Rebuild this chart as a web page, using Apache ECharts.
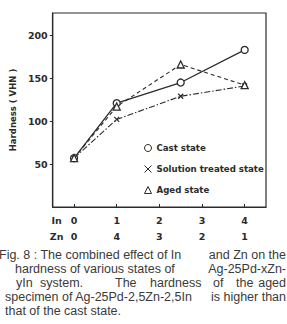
<!DOCTYPE html>
<html>
<head>
<meta charset="utf-8">
<script src="https://cdn.jsdelivr.net/npm/echarts@6/dist/echarts.min.js"></script>
<style>
  html, body { margin: 0; padding: 0; background: #fff; }
  #chart { width: 287px; height: 324px; }
</style>
</head>
<body>
<div id="chart"></div>
<script>
// x positions: In content (Zn = 4 - In, except the base alloy)
const xPositions = [0, 1, 2.5, 4];
const castState = [57, 121, 145, 183];
const solutionState = [57, 102, 129, 141];
const agedState = [57, 117, 166, 142];

const xTicks = [0, 1, 2, 3, 4];
const inLabels = ['0', '1', '2', '3', '4'];
const znLabels = ['0', '4', '3', '2', '1'];
const yTicks = [50, 100, 150, 200];

const captionText = [
    ['Fig. 8 : The combined effect of In', 'and Zn on the'],
    ['hardness of various states of', 'Ag-25Pd-xZn-'],
    ['yIn', 'system.', 'The', 'hardness', 'of', 'the', 'aged'],
    ['specimen of Ag-25Pd-2,5Zn-2,5In', 'is higher than'],
    ['that of the cast state.']
];
// left offset of each caption piece; null = pinned to the right edge
const captionLeft = [
    [-1, null],
    [15, null],
    [16, 40, 115, 150, 213, 236, null],
    [5, null],
    [5]
];

const ink = '#2b2b2b';
const chartFont = 'DejaVu Sans';

const toPoints = vals => vals.map((v, i) => [xPositions[i], v]);

const chart = echarts.init(document.getElementById('chart'), null, { renderer: 'svg' });

const captionGraphics = [];
captionText.forEach((line, row) => {
    line.forEach((text, k) => {
        const x = captionLeft[row][k];
        const el = {
            type: 'text',
            top: 248 + row * 14,
            style: {
                text: text,
                fill: '#3a3a3a',
                font: '12.5px "Liberation Sans", Arial, sans-serif'
            }
        };
        if (x === null) el.right = 1; else el.left = x;
        captionGraphics.push(el);
    });
});

const options = {
    backgroundColor: '#fff',
    animation: false,
    grid: {
        left: 45,
        right: 21,
        top: 13,
        bottom: 117,
        show: true,
        borderColor: ink,
        borderWidth: 1.2,
        containLabel: false
    },
    legend: {
        orient: 'vertical',
        left: 139,
        top: 137,
        itemWidth: 7,
        itemHeight: 7,
        itemGap: 9,
        itemStyle: { borderWidth: 1 },
        textStyle: {
            fontFamily: chartFont,
            fontWeight: 'bold',
            fontSize: 8.6,
            lineHeight: 12,
            color: ink
        },
        data: [
            { name: 'Cast state', icon: 'circle' },
            { name: 'Solution treated state', icon: 'path://M0,0L10,10M10,0L0,10' },
            { name: 'Aged state', icon: 'triangle' }
        ]
    },
    xAxis: {
        type: 'value',
        min: -0.5,
        max: 4.5,
        axisLine: { show: true, onZero: false, lineStyle: { color: ink, width: 1.2 } },
        axisTick: {
            show: true,
            inside: true,
            length: 3,
            customValues: xTicks,
            lineStyle: { color: ink }
        },
        splitLine: { show: false },
        axisLabel: {
            customValues: [-0.41].concat(xTicks),
            margin: 5,
            fontFamily: chartFont,
            fontWeight: 'bold',
            fontSize: 9.5,
            lineHeight: 16,
            color: ink,
            formatter: v => {
                if (v < 0) return 'In\nZn';
                const i = xTicks.indexOf(v);
                return inLabels[i] + '\n' + znLabels[i];
            }
        }
    },
    yAxis: {
        type: 'value',
        min: 0,
        max: 226,
        name: 'Hardness ( VHN )',
        nameLocation: 'middle',
        nameGap: 26,
        nameTextStyle: {
            fontFamily: chartFont,
            fontWeight: 'bold',
            fontSize: 8.5,
            color: ink
        },
        axisLine: { show: true, onZero: false, lineStyle: { color: ink, width: 1.2 } },
        axisTick: {
            show: true,
            length: 3,
            customValues: yTicks,
            lineStyle: { color: ink }
        },
        splitLine: { show: false },
        axisLabel: {
            customValues: yTicks,
            margin: 5,
            fontFamily: chartFont,
            fontWeight: 'bold',
            fontSize: 9.5,
            color: ink
        }
    },
    series: [
        {
            name: 'Cast state',
            type: 'line',
            data: toPoints(castState),
            symbol: 'circle',
            symbolSize: 7,
            itemStyle: { color: '#fff', borderColor: ink, borderWidth: 1.3 },
            lineStyle: { color: ink, width: 1.3, type: 'solid' }
        },
        {
            name: 'Solution treated state',
            type: 'line',
            data: toPoints(solutionState),
            symbol: 'path://M0,0L10,10M10,0L0,10',
            symbolSize: 5,
            itemStyle: { color: '#fff', borderColor: ink, borderWidth: 1.2 },
            lineStyle: { color: ink, width: 1.1, type: [6, 2, 1.5, 2] }
        },
        {
            name: 'Aged state',
            type: 'line',
            data: toPoints(agedState),
            symbol: 'triangle',
            symbolSize: 7,
            itemStyle: { color: '#fff', borderColor: ink, borderWidth: 1.3 },
            lineStyle: { color: ink, width: 1.1, type: [4, 3] }
        }
    ],
    graphic: captionGraphics
};

chart.setOption(options);
</script>
</body>
</html>
